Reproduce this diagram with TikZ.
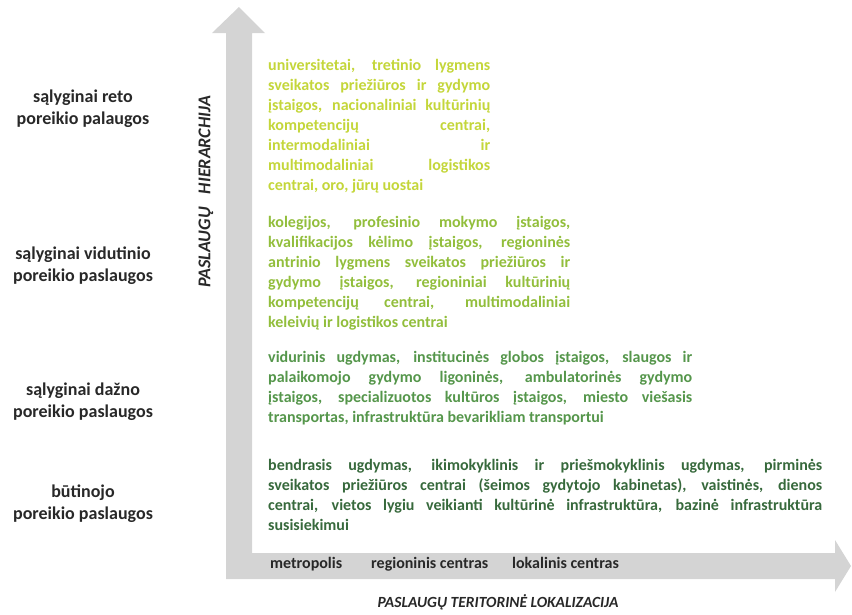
\documentclass[tikz,border=0pt]{standalone}
\usepackage{fontspec}
\setmainfont{Carlito}[BoldFont={Carlito Bold}, ItalicFont={Carlito Italic}, BoldItalicFont={Carlito Bold Italic}]
\definecolor{axisgray}{RGB}{212,212,212}
\definecolor{labelgray}{RGB}{40,40,40}
\definecolor{cone}{RGB}{196,214,58}
\definecolor{ctwo}{RGB}{146,190,60}
\definecolor{cthree}{RGB}{85,150,75}
\definecolor{cfour}{RGB}{55,105,60}
\tikzset{
  levellabel/.style={align=center, font=\fontsize{18}{22}\selectfont\bfseries, text=labelgray, inner sep=0pt},
  axislabel/.style={font=\fontsize{16}{18}\selectfont\bfseries, text=labelgray, inner sep=0pt, anchor=base west},
  axistitle/.style={font=\fontsize{15.5}{18}\selectfont\bfseries\itshape, text=labelgray, inner sep=0pt},
  blocktext/.style={anchor=base west, inner sep=0pt, align=justify, font=\fontsize{16}{20}\selectfont\bfseries}
}
\begin{document}
\begin{tikzpicture}[x=1pt,y=-1pt]
\useasboundingbox (0,0) rectangle (852,614);
% L-shaped double arrow
\fill[axisgray] (239,7) -- (265,33) -- (252,33) -- (252,553) -- (835,553) -- (835,540)
  -- (851,566) -- (835,592) -- (835,579) -- (226,579) -- (226,33) -- (212,33) -- cycle;
% level labels
\node[levellabel] (l1) at (83,109) {sąlyginai reto\\poreikio palaugos};
\node[levellabel] (l2) at (83,266) {sąlyginai vidutinio\\poreikio paslaugos};
\node[levellabel] (l3) at (83,402) {sąlyginai dažno\\poreikio paslaugos};
\node[levellabel] (l4) at (83,504) {būtinojo\\poreikio paslaugos};
% axis titles
\node[axistitle, rotate=90, font=\fontsize{18}{20}\selectfont\bfseries\itshape] (yt) at (206,192) {PASLAUGŲ\hspace{13pt}HIERARCHIJA};
\node[axistitle] (xt) at (498,602) {PASLAUGŲ TERITORINĖ LOKALIZACIJA};
% x axis categories
\node[axislabel] (m) at (270,568) {metropolis};
\node[axislabel] (r) at (371,568) {regioninis centras};
\node[axislabel] (k) at (512,568) {lokalinis centras};
% text blocks
\node[blocktext, text width=222pt, text=cone] (b1) at (268,70) {universitetai, tretinio lygmens\linebreak sveikatos priežiūros ir gydymo\linebreak įstaigos, nacionaliniai kultūrinių\linebreak kompetencijų centrai,\linebreak intermodaliniai ir\linebreak multimodaliniai logistikos\linebreak centrai, oro, jūrų uostai};
\node[blocktext, text width=302pt, text=ctwo] (b2) at (268,227) {kolegijos, profesinio mokymo įstaigos,\linebreak kvalifikacijos kėlimo įstaigos, regioninės\linebreak antrinio lygmens sveikatos priežiūros ir\linebreak gydymo įstaigos, regioniniai kultūrinių\linebreak kompetencijų centrai, multimodaliniai\linebreak keleivių ir logistikos centrai};
\node[blocktext, text width=424pt, text=cthree] (b3) at (268,362) {vidurinis ugdymas, institucinės globos įstaigos, slaugos ir\linebreak palaikomojo gydymo ligoninės, ambulatorinės gydymo\linebreak įstaigos, specializuotos kultūros įstaigos, miesto viešasis\linebreak transportas, infrastruktūra bevarikliam transportui};
\node[blocktext, text width=554pt, text=cfour] (b4) at (268,470) {bendrasis ugdymas, ikimokyklinis ir priešmokyklinis ugdymas, pirminės\linebreak sveikatos priežiūros centrai (šeimos gydytojo kabinetas), vaistinės, dienos\linebreak centrai, vietos lygiu veikianti kultūrinė infrastruktūra, bazinė infrastruktūra\linebreak susisiekimui};
\end{tikzpicture}
\end{document}
